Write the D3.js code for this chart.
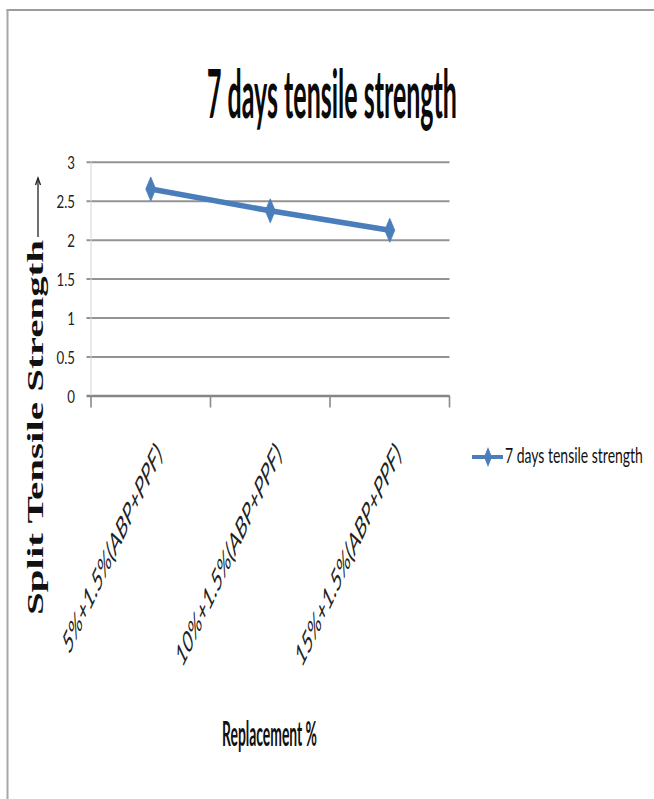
<!DOCTYPE html>
<html>
<head>
<meta charset="utf-8">
<script src="https://cdn.jsdelivr.net/npm/d3@7"></script>
<style>
  html, body { margin: 0; padding: 0; background: #fff; }
  svg { display: block; }
</style>
</head>
<body>
<svg id="chart" width="654" height="799"></svg>
<script>
// ---- data ----
const categories = ["5%+1.5%(ABP+PPF)", "10%+1.5%(ABP+PPF)", "15%+1.5%(ABP+PPF)"];
const tensileStrength = [2.65, 2.37, 2.12];
const yTicks = [0, 0.5, 1, 1.5, 2, 2.5, 3];
const seriesName = "7 days tensile strength";
const chartTitle = "7 days tensile strength";
const xAxisTitle = "Replacement %";
const yAxisTitle = "Split Tensile Strength";

// ---- layout ----
const W = 654, H = 799;
const plot = { left: 91, right: 449.5, top: 161.7, bottom: 395.5 };
const SANS = "Lato, 'Open Sans', sans-serif";
const SERIF = "'Liberation Serif', 'DejaVu Serif', serif";
const BLUE = "#4a7ebb";

const svg = d3.select("#chart");
svg.append("rect").attr("width", W).attr("height", H).attr("fill", "#fff");

// frame edges
svg.append("line").attr("x1", 6.5).attr("x2", W).attr("y1", 10).attr("y2", 10)
  .attr("stroke", "#9c9c9c").attr("stroke-width", 2);
svg.append("line").attr("x1", 7.5).attr("x2", 7.5).attr("y1", 9).attr("y2", H)
  .attr("stroke", "#a8a8a8").attr("stroke-width", 2);

const x = d3.scaleBand().domain(categories).range([plot.left, plot.right]);
const y = d3.scaleLinear().domain([0, 3]).range([plot.bottom, plot.top]);
const cx = c => x(c) + x.bandwidth() / 2;

// condensed text: put text at origin of a group and squeeze horizontally to a width
function condensed(parent, str, opts) {
  const g = parent.append("g");
  const t = g.append("text").text(str)
    .attr("font-family", opts.family || SANS)
    .attr("font-size", opts.size)
    .attr("font-weight", opts.weight || "normal")
    .attr("fill", opts.fill || "#111")
    .attr("text-anchor", opts.anchor || "start");
  const natural = t.node().getComputedTextLength();
  const k = opts.width ? opts.width / natural : (opts.k || 1);
  g.attr("transform", `translate(${opts.x},${opts.y}) scale(${k},1)`);
  return g;
}

// ---- title ----
condensed(svg, chartTitle, { x: 332, y: 118, size: 66, weight: "bold", anchor: "middle", width: 250, fill: "#0a0a0a" });

// ---- gridlines ----
const grid = svg.append("g")
  .attr("transform", `translate(${plot.left},0)`)
  .call(d3.axisLeft(y).tickValues(yTicks).tickSize(-(plot.right - plot.left)).tickFormat(""));
grid.select(".domain").remove();
grid.selectAll(".tick line")
  .attr("x1", -4.5)
  .attr("stroke", d => d === 0 ? "#858585" : "#939393")
  .attr("stroke-width", d => d === 0 ? 2.4 : 2);

// faint value axis line
svg.append("line").attr("x1", plot.left).attr("x2", plot.left)
  .attr("y1", plot.top).attr("y2", plot.bottom)
  .attr("stroke", "#d6d6d6").attr("stroke-width", 1);

// ---- y tick labels ----
const yAxis = svg.append("g")
  .attr("transform", `translate(${plot.left - 16},0)`)
  .call(d3.axisLeft(y).tickValues(yTicks).tickSize(0).tickPadding(0).tickFormat(d3.format("")));
yAxis.select(".domain").remove();
yAxis.selectAll(".tick text")
  .attr("font-family", SANS).attr("font-size", 17).attr("fill", "#222")
  .attr("x", 0).attr("dy", "0.42em")
  .attr("transform", "scale(0.78,1)");

// ---- category ticks on the baseline ----
const boundaries = categories.map(c => x(c)).concat([x.range()[1]]);
svg.append("g").selectAll("line").data(boundaries).join("line")
  .attr("x1", d => d).attr("x2", d => d)
  .attr("y1", plot.bottom).attr("y2", plot.bottom + 12)
  .attr("stroke", "#8a8a8a").attr("stroke-width", 1.6);

// ---- rotated category labels ----
svg.append("g").selectAll("g").data(categories).join("g")
  .attr("transform", d => `translate(${cx(d) + 12},456) scale(0.47,1) rotate(-45)`)
  .append("text")
  .text(d => d)
  .attr("text-anchor", "end")
  .attr("font-family", SANS).attr("font-size", 31.5).attr("fill", "#222");

// ---- series line ----
const points = categories.map((c, i) => ({ c, v: tensileStrength[i] }));
svg.append("path").datum(points)
  .attr("fill", "none").attr("stroke", BLUE).attr("stroke-width", 5.5)
  .attr("stroke-linejoin", "round")
  .attr("d", d3.line().x(d => cx(d.c)).y(d => y(d.v)));

const diamond = (w, h) => `M0,${-h / 2}L${w / 2},0L0,${h / 2}L${-w / 2},0Z`;
svg.append("g").selectAll("path").data(points).join("path")
  .attr("transform", d => `translate(${cx(d.c)},${y(d.v)})`)
  .attr("d", diamond(10, 24))
  .attr("fill", BLUE).attr("stroke", BLUE).attr("stroke-width", 0.8);

// ---- legend ----
const lg = svg.append("g").attr("transform", "translate(472,457)");
lg.append("line").attr("x1", 0).attr("x2", 31).attr("stroke", BLUE).attr("stroke-width", 4);
lg.append("path").attr("transform", "translate(16,0)").attr("d", diamond(8, 20)).attr("fill", BLUE);
condensed(svg, seriesName, { x: 505, y: 463, size: 21, width: 138, fill: "#111" });

// ---- axis titles ----
condensed(svg, xAxisTitle, { x: 222, y: 746, size: 34, weight: "bold", width: 95, fill: "#111" });

svg.append("g").attr("transform", "translate(43,615) scale(0.54,1) rotate(-90)")
  .append("text").text(yAxisTitle)
  .attr("font-family", SERIF).attr("font-weight", "bold").attr("font-size", 41).attr("fill", "#111");

// upward arrow after the y title
const arrow = svg.append("g").attr("stroke", "#222").attr("stroke-width", 1.3).attr("fill", "none");
arrow.append("line").attr("x1", 38).attr("x2", 38).attr("y1", 237).attr("y2", 178);
arrow.append("path").attr("d", "M35.5,185L38,178L40.5,185");
</script>
</body>
</html>
